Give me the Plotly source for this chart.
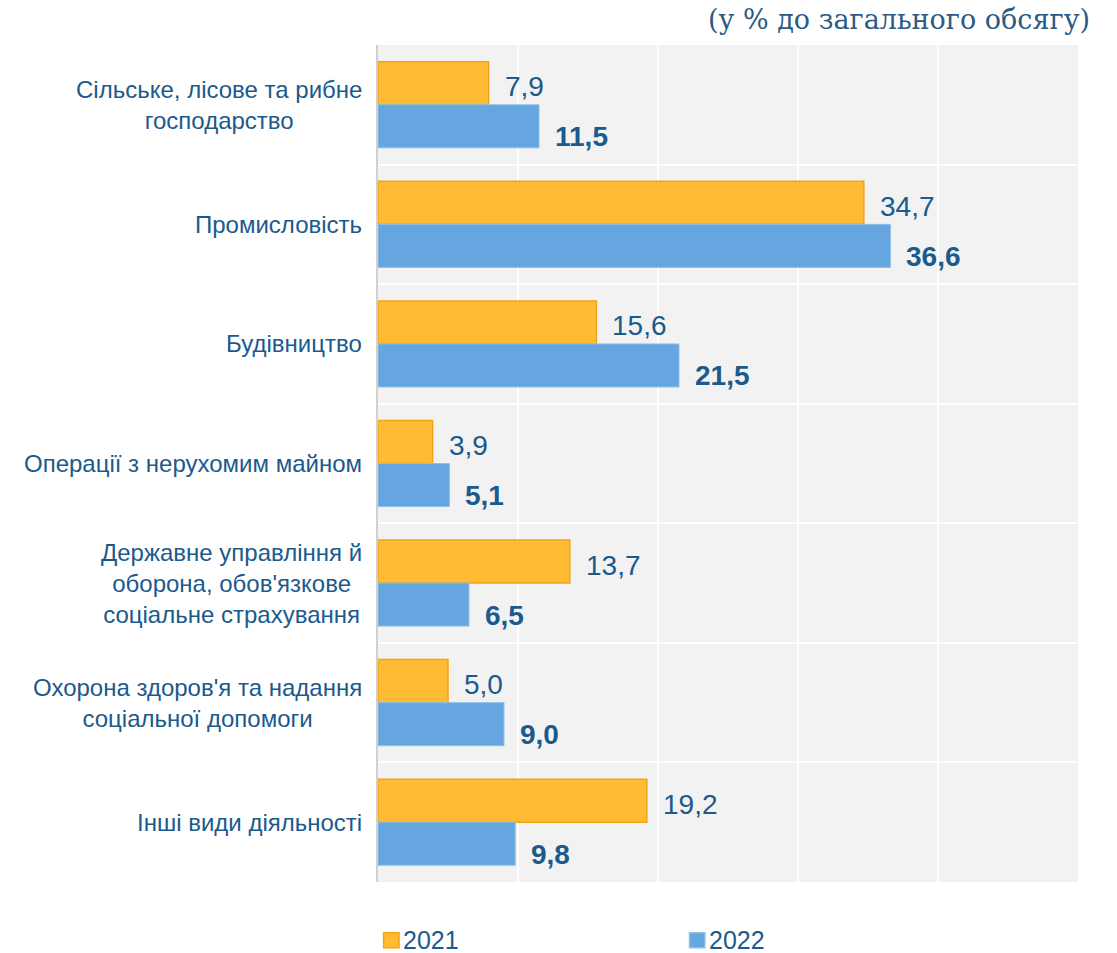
import plotly.graph_objects as go

# Shares of total volume by kind of activity, %
categories = [
    "Сільське, лісове та рибне<br>господарство",
    "Промисловість",
    "Будівництво",
    "Операції з нерухомим майном",
    "Державне управління й<br>оборона, обов'язкове<br>соціальне страхування",
    "Охорона здоров'я та надання<br>соціальної допомоги",
    "Інші види діяльності",
]
values_2021 = [7.9, 34.7, 15.6, 3.9, 13.7, 5.0, 19.2]
values_2022 = [11.5, 36.6, 21.5, 5.1, 6.5, 9.0, 9.8]
series_names = ["2021", "2022"]

TEXT = "#1B5A8C"
FONT = "Liberation Sans, Arial, sans-serif"
FILL = ["#FFBB33", "#66A6E0"]
EDGE = ["#F5A316", "#8FBFEA"]


def fmt(v):
    return f"{v:.1f}".replace(".", ",")


fig = go.Figure()
for name, vals, fill, edge, width in zip(series_names, [values_2021, values_2022],
                                         FILL, EDGE, [1.5, 1]):
    fig.add_trace(go.Bar(
        name=name, y=categories, x=vals, orientation="h",
        marker=dict(color=fill, line=dict(color=edge, width=width)),
        showlegend=False,
    ))

annotations = []
# value labels: 2021 regular, 2022 bold
for cat, v in zip(categories, values_2021):
    annotations.append(dict(
        x=v, y=cat, xref="x", yref="y", text=fmt(v), showarrow=False,
        xanchor="left", yanchor="middle", xshift=14, yshift=18,
        font=dict(family=FONT, size=28, color=TEXT),
    ))
for cat, v in zip(categories, values_2022):
    annotations.append(dict(
        x=v, y=cat, xref="x", yref="y", text="<b>" + fmt(v) + "</b>",
        showarrow=False, xanchor="left", yanchor="middle", xshift=14, yshift=-32,
        font=dict(family=FONT, size=28, color=TEXT),
    ))
# category labels, centred lines, right-aligned block
for cat in categories:
    annotations.append(dict(
        x=0, y=cat, xref="paper", yref="y", text=cat, showarrow=False,
        xanchor="right", yanchor="middle", xshift=-14, align="center",
        font=dict(family=FONT, size=24, color=TEXT),
    ))
# unit note
annotations.append(dict(
    x=1.0, y=1.0, xref="paper", yref="paper", text="(у % до загального обсягу)",
    showarrow=False, xanchor="right", yanchor="bottom", xshift=14, yshift=8,
    font=dict(family="DejaVu Serif, serif", size=27, color="#2B5A86"),
))

# legend below the plot: coloured square + series name
shapes = []
legend_x = [0.008, 0.445]
for name, fill, edge, lx in zip(series_names, FILL, EDGE, legend_x):
    shapes.append(dict(
        type="rect", xref="paper", yref="paper",
        x0=lx, x1=lx + 0.022, y0=-0.0605, y1=-0.0785,
        fillcolor=fill, line=dict(color=edge, width=1.5),
    ))
    annotations.append(dict(
        x=lx + 0.022, y=-0.0695, xref="paper", yref="paper", text=name,
        showarrow=False, xanchor="left", yanchor="middle", xshift=2,
        font=dict(family=FONT, size=25, color=TEXT),
    ))

fig.update_layout(
    width=1117, height=953,
    margin=dict(l=378, r=39, t=45, b=71),
    paper_bgcolor="white", plot_bgcolor="#F2F2F2",
    barmode="group", bargap=0.28, bargroupgap=0,
    font=dict(family=FONT, color=TEXT),
    annotations=annotations,
    shapes=shapes,
    showlegend=False,
    xaxis=dict(
        range=[0, 50], dtick=10, showticklabels=False, ticks="",
        showgrid=True, gridcolor="white", gridwidth=2, zeroline=False,
        showline=False, fixedrange=True,
    ),
    yaxis=dict(
        autorange="reversed", type="category", showticklabels=False,
        tickson="boundaries", ticks="", showgrid=True, gridcolor="white",
        gridwidth=2, showline=True, linecolor="#D0D0D0", linewidth=2,
        zeroline=False,
    ),
)

fig.write_html("out.html")
